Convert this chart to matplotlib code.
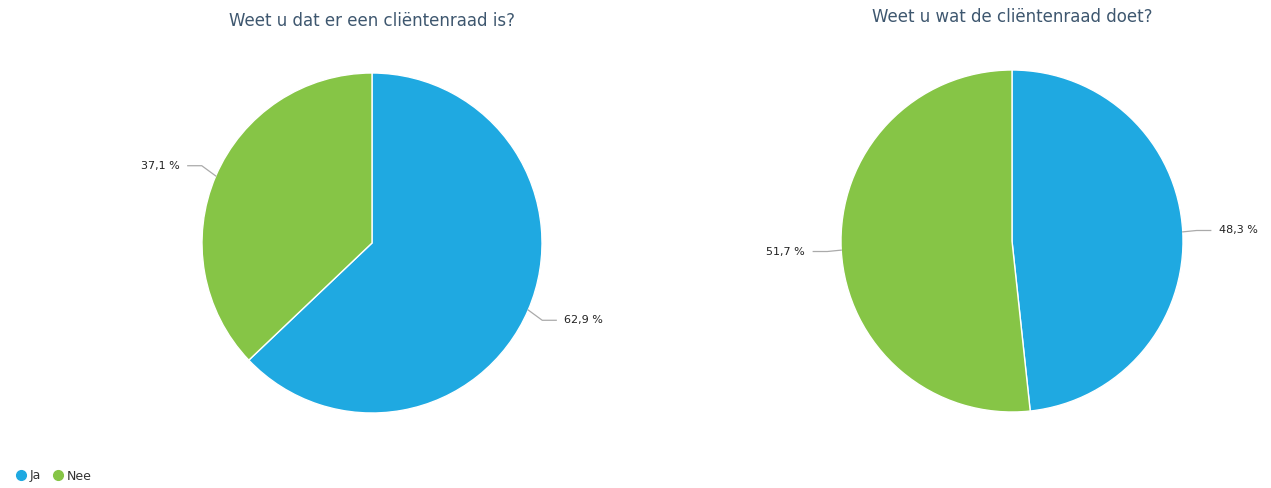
import numpy as np
import matplotlib.pyplot as plt

W, H = 1271, 488

categories = ["Ja", "Nee"]
colors = ["#1fa9e1", "#86c546"]

titles = ["Weet u dat er een cliëntenraad is?", "Weet u wat de cliëntenraad doet?"]
values_1 = [62.9, 37.1]
values_2 = [48.3, 51.7]
labels_1 = ["62,9 %", "37,1 %"]
labels_2 = ["48,3 %", "51,7 %"]

fig = plt.figure(figsize=(W / 100, H / 100), dpi=100)


def draw_pie(cx, cy, r, title, title_y, values, labels):
    ax = fig.add_axes([(cx - r) / W, (H - cy - r) / H, 2 * r / W, 2 * r / H])
    wedges, _ = ax.pie(values, colors=colors, startangle=90, counterclock=False,
                       radius=1, wedgeprops=dict(edgecolor="white", linewidth=1))
    ax.set_xlim(-1, 1)
    ax.set_ylim(-1, 1)
    ax.axis("off")
    px = 1.0 / r  # one pixel in data units
    for w, lab in zip(wedges, labels):
        ang = np.deg2rad((w.theta1 + w.theta2) / 2)
        c, s = np.cos(ang), np.sin(ang)
        x0, y0 = c, s
        side = 1 if c >= 0 else -1
        ly = (1 + 26 * px) * s
        x1 = x0 + side * 14 * px
        x2 = x0 + side * 28 * px
        ax.plot([x0, x1, x2], [y0, ly, ly], color="#aaaaaa", lw=0.9, clip_on=False)
        ax.text(x0 + side * 36 * px, ly, lab, ha="left" if side > 0 else "right",
                va="center", fontsize=8, color="#222222", clip_on=False)
    fig.text(cx / W, 1 - title_y / H, title, ha="center", va="center",
             fontsize=12, color="#3e576f")


draw_pie(372, 243, 170, titles[0], 21, values_1, labels_1)
draw_pie(1012, 241, 171, titles[1], 17, values_2, labels_2)

handles = [plt.Line2D([], [], marker="o", ls="", color=c, markersize=7) for c in colors]
fig.legend(handles, categories, loc="center left", bbox_to_anchor=(2 / W, 1 - 476 / H),
           ncol=2, frameon=False, fontsize=9, handletextpad=0.1, columnspacing=0.8,
           handlelength=1.2, labelcolor="#333333")

fig.savefig("out.png", dpi=100)
